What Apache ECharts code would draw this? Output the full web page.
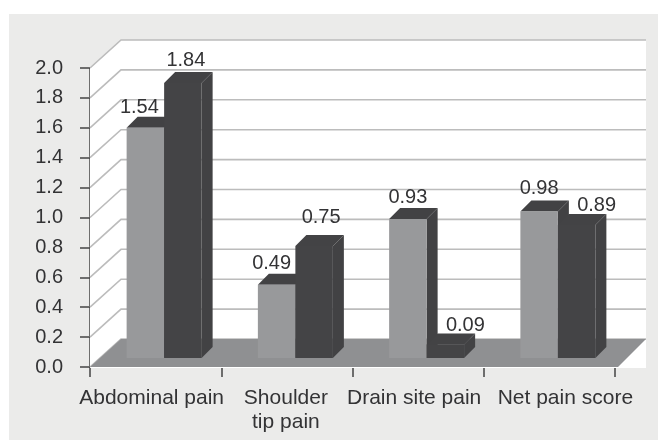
<!DOCTYPE html>
<html>
<head>
<meta charset="utf-8">
<style>html,body{margin:0;padding:0;background:#fff}#chart{width:658px;height:440px}</style>
<script src="https://cdn.jsdelivr.net/npm/echarts@6/dist/echarts.min.js"></script>
</head>
<body>
<div id="chart"></div>
<script>
// values
var categories = ['Abdominal pain', 'Shoulder\ntip pain', 'Drain site pain', 'Net pain score'];
var lightValues = [1.54, 0.49, 0.93, 0.98];
var darkValues = [1.84, 0.75, 0.09, 0.89];
var yTicks = [0, 0.2, 0.4, 0.6, 0.8, 1.0, 1.2, 1.4, 1.6, 1.8, 2.0];

// fake 3d look
var DX = 31, DY = 28;         // wall depth
var FLOOR_Y = 9, SIDE = 11;   // bar inset from the front edge, bar depth
var FONT = '"Liberation Sans", Arial, sans-serif';
// label nudges, [light], [dark], category names
var lightNudge = [[-6, -9], [-5, -10], [0, -10], [0, -12]];
var darkNudge = [[3, -11], [7, -17], [20, -8], [20, -8]];
var catNudge = [-4, -1, -4, 16];

function poly(points, fill) {
  return { type: 'polygon', shape: { points: points }, style: { fill: fill } };
}

function renderWalls(params, api) {
  var o = api.coord([0, 0]);
  var t = api.coord([0, 2]);
  var left = params.coordSys.x;
  var right = left + params.coordSys.width;
  var kids = [
    // white plot area
    poly([[left, t[1]], [left + DX, t[1] - DY], [right + DX, t[1] - DY], [right + DX, o[1] + 1], [left, o[1] + 1]], '#fff')
  ];
  yTicks.forEach(function (v) {
    var y = api.coord([0, v])[1];
    kids.push({ type: 'polyline', shape: { points: [[left, y], [left + DX, y - DY], [right + DX, y - DY]] },
      style: { stroke: '#bcbcbc', lineWidth: 1.6, fill: null } });
  });
  // floor
  kids.push(poly([[left, o[1]], [left + DX, o[1] - DY], [right + DX, o[1] - DY], [right + 3, o[1]]], '#8f9092'));
  return { type: 'group', children: kids };
}

function barShape(x0, x1, value, api, front, side, top) {
  var y0 = api.coord([0, 0])[1] - FLOOR_Y;
  var y1 = y0 - (api.coord([0, 0])[1] - api.coord([0, value])[1]);
  return [
    poly([[x1, y0], [x1 + SIDE, y0 - SIDE], [x1 + SIDE, y1 - SIDE], [x1, y1]], side),
    poly([[x0, y1], [x0 + SIDE, y1 - SIDE], [x1 + SIDE, y1 - SIDE], [x1, y1]], top),
    poly([[x0, y0], [x1, y0], [x1, y1], [x0, y1]], front)
  ];
}

function renderBars(params, api) {
  var i = api.value(0);
  var cx = api.coord([i, 0])[0];
  var a = barShape(cx - 29, cx + 8.5, lightValues[i], api, '#98999b', '#424244', '#424244');
  var b = barShape(cx + 8.5, cx + 46, darkValues[i], api, '#444446', '#424244', '#434345');
  var base = api.coord([0, 0])[1];
  var y0 = base - FLOOR_Y;
  var scale = base - api.coord([0, 1])[1];
  function label(value, x, nudge) {
    return { type: 'text', style: {
      text: value.toFixed(2), x: x + nudge[0], y: y0 - value * scale - SIDE + nudge[1],
      font: '20px ' + FONT, fill: '#333335', align: 'center', verticalAlign: 'middle' }, z2: 10 };
  }
  // category names go here, the reference does not center them on the bands
  var name = { type: 'text', style: {
    text: categories[i], x: cx + catNudge[i], y: base + 19,
    font: '21px ' + FONT, lineHeight: 24, fill: '#333335', align: 'center', verticalAlign: 'top' }, z2: 10 };
  return { type: 'group', children: a.concat(b, [
    label(lightValues[i], cx - 10.25, lightNudge[i]),
    label(darkValues[i], cx + 27.25, darkNudge[i]),
    name
  ]) };
}

var chart = echarts.init(document.getElementById('chart'));
chart.setOption({
  animation: false,
  backgroundColor: '#fff',
  graphic: [{ type: 'rect', shape: { x: 9, y: 14, width: 649, height: 426 }, style: { fill: '#ebebea' }, z: -10 }],
  grid: { left: 90, top: 68, width: 525, height: 299 },
  xAxis: {
    type: 'category', data: categories,
    axisLine: { show: false },
    axisTick: { show: true, length: 10, lineStyle: { color: '#444', width: 1.5 } },
    axisLabel: { show: false }
  },
  yAxis: {
    type: 'value', min: 0, max: 2, interval: 0.2,
    axisLine: { show: true, lineStyle: { color: '#444', width: 1.5 } },
    axisTick: { show: true, length: 10, lineStyle: { color: '#444', width: 1.5 } },
    axisLabel: { color: '#333335', fontSize: 20, fontFamily: 'Liberation Sans', margin: 27,
      formatter: function (v) { return v.toFixed(1); } },
    splitLine: { show: false }
  },
  series: [
    { type: 'custom', coordinateSystem: 'cartesian2d', data: [[0, 0]], renderItem: renderWalls, clip: false, z: 1 },
    { type: 'custom', coordinateSystem: 'cartesian2d', data: [0, 1, 2, 3].map(function (i) { return [i, lightValues[i]]; }),
      renderItem: renderBars, clip: false, z: 2 }
  ]
});
</script>
</body>
</html>
